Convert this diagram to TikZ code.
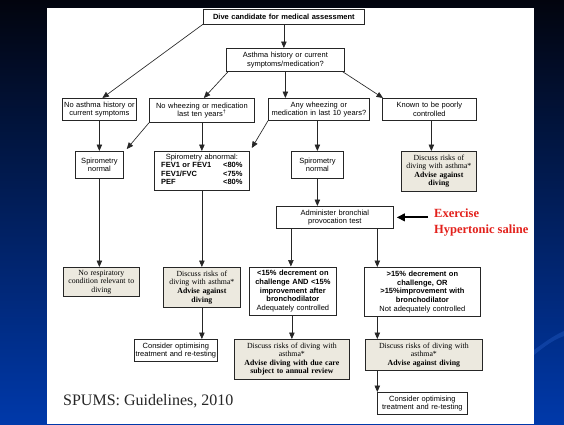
\documentclass[tikz,border=0pt]{standalone}
\usepackage{fontspec}
\setmainfont{Liberation Serif}
\setsansfont{Liberation Sans}
\usetikzlibrary{arrows.meta}
\definecolor{beige}{HTML}{ECE9DF}
\definecolor{redtxt}{HTML}{E3211C}
\definecolor{bgtop}{HTML}{02040E}
\definecolor{bgmid}{HTML}{0A2A7C}
\definecolor{bgbot}{HTML}{0039AA}
\definecolor{swoosh}{HTML}{2A62CC}
\tikzset{
  box/.style={draw=black!85, line width=0.75bp, fill=white, inner xsep=1bp, inner ysep=0pt,
    align=center, anchor=north west, text=black,
    font=\sffamily\fontsize{7.5bp}{8.6bp}\selectfont},
  tbox/.style={box, fill=beige, font=\rmfamily\fontsize{7.8bp}{8.6bp}\selectfont},
  arr/.style={draw=black!85, line width=0.65bp, -{Triangle[length=6.5bp,width=5.5bp]}},
  bigarr/.style={draw=black, line width=2.2bp, -{Triangle[length=8bp,width=7.5bp]}},
}
\begin{document}
\begin{tikzpicture}[x=1bp,y=-1bp]
\useasboundingbox (0,0) rectangle (564,424);
% slide background
\shade[top color=bgtop, middle color=bgmid, bottom color=bgbot] (0,0) rectangle (564,424);
\fill[swoosh, opacity=0.35] (534,350) .. controls (545,342) and (553,336) .. (564,331)
  -- (564,336) .. controls (553,340) and (545,346) .. (534,355) -- cycle;
\fill[white] (47,8) rectangle (534,424);

% boxes
\node[box, text width=159bp, minimum height=14.5bp, font=\sffamily\bfseries\fontsize{7.5bp}{8.6bp}\selectfont] (A) at (203,9) {Dive candidate for medical assessment};
\node[box, text width=116bp, minimum height=23bp] (B) at (226,48) {Asthma history or current\\symptoms/medication?};
\node[box, text width=72bp, minimum height=22bp] (C) at (62,98) {No asthma history or\\current symptoms};
\node[box, text width=103bp, minimum height=24bp] (D) at (149,98) {No wheezing or medication\\last ten years\textsuperscript{\textdagger}};
\node[box, text width=99bp, minimum height=22bp] (E) at (268,98) {Any wheezing or\\medication in last 10 years?};
\node[box, text width=92bp, minimum height=22bp] (F) at (382,98) {Known to be poorly\\controlled};

\node[box, text width=46bp, minimum height=27bp] (G) at (75,151) {Spirometry\\normal};
\node[box, text width=93bp, minimum height=39bp] (H) at (154,151) {Spirometry abnormal:\\[-0.5bp]
  \begin{tabular}{@{}l@{\hspace{12bp}}l@{}}
  \textbf{FEV1 or FEV1} & \textbf{<80\%}\\
  \textbf{FEV1/FVC} & \textbf{<75\%}\\
  \textbf{PEF} & \textbf{<80\%}
  \end{tabular}};
\node[box, text width=50bp, minimum height=27bp] (I) at (291,151) {Spirometry\\normal};
\node[tbox, text width=73bp, minimum height=39.5bp] (J) at (401,151) {Discuss risks of\\diving with asthma*\\\textbf{Advise against}\\\textbf{diving}};

\node[box, text width=115bp, minimum height=22bp] (K) at (276,206) {Administer bronchial\\provocation test};

\node[box, text width=85bp, minimum height=48.5bp] (L) at (249,266.5) {\textbf{<15\% decrement on}\\\textbf{challenge AND <15\%}\\\textbf{improvement after}\\\textbf{bronchodilator}\\Adequately controlled};
\node[box, text width=114bp, minimum height=49bp] (M) at (364,267) {\textbf{>15\% decrement on}\\\textbf{challenge, OR}\\\textbf{>15\%improvement with}\\\textbf{bronchodilator}\\Not adequately controlled};

\node[tbox, text width=74.6bp, minimum height=29bp] (N) at (62.7,267) {No respiratory\\condition relevant to\\diving};
\node[tbox, text width=75bp, minimum height=40bp] (O) at (163,267) {Discuss risks of\\diving with asthma*\\\textbf{Advise against}\\\textbf{diving}};

\node[box, text width=81bp, minimum height=22bp] (P) at (134,339) {Consider optimising\\treatment and re-testing};
\node[tbox, text width=113bp, minimum height=39.5bp] (Q) at (234,339) {Discuss risks of diving with\\asthma*\\\textbf{Advise diving with due care}\\\textbf{subject to annual review}};
\node[tbox, text width=115bp, minimum height=31bp] (R) at (365,339) {Discuss risks of diving with\\asthma*\\\textbf{Advise against diving}};
\node[box, text width=87.4bp, minimum height=22bp] (S) at (377.3,392) {Consider optimising\\treatment and re-testing};

% red annotation
\node[anchor=west, align=left, inner sep=0pt, text=redtxt,
  font=\rmfamily\bfseries\fontsize{12.5bp}{16bp}\selectfont] (ex) at (434,223) {Exercise\\Hypertonic saline};
% caption
\node[anchor=west, inner sep=0pt, text=black!85,
  font=\rmfamily\fontsize{16bp}{18bp}\selectfont] (cap) at (63,401) {SPUMS: Guidelines, 2010};

% connectors
\draw[arr] (A.south) -- (A.south |- B.north);
\draw[arr] (A.south west) -- ([xshift=3bp]C.north);
\draw[arr] ([xshift=2bp]B.south west) -- ([xshift=2bp]D.north);
\draw[arr] (B.south) -- (B.south |- E.north);
\draw[arr] ([xshift=-2bp]B.south east) -- ([xshift=1bp]F.north west);

\draw[arr] (C.south) -- (C.south |- G.north);
\draw[arr] (D.south west) -- ([xshift=3bp,yshift=2bp]G.north east);
\draw[arr] (D.south) -- (D.south |- H.north);
\draw[arr] (E.south west) -- ([xshift=2bp,yshift=3bp]H.north east);
\draw[arr] (I.north |- E.south) -- (I.north);
\draw[arr] ([xshift=2bp]F.south) -- ([xshift=2bp]F.south |- J.north);

\draw[arr] (I.south) -- (I.south |- K.north);
\draw[bigarr] ([xshift=-6bp]ex.west |- K.east) -- ([xshift=3bp]K.east);
\draw[arr] ([xshift=-2bp]L.north |- K.south) -- ([xshift=-2bp]L.north);
\draw[arr] ([xshift=13.3bp]M.north west |- K.south) -- ([xshift=13.3bp]M.north west);

\draw[arr] (G.south) -- (G.south |- N.north);
\draw[arr] (H.south) -- (H.south |- O.north);
\draw[arr] (O.south) -- (O.south |- P.north);
\draw[arr] ([xshift=-1bp]L.south) -- ([xshift=-1bp]L.south |- Q.north);
\draw[arr] ([xshift=13.3bp]M.south west) -- ([xshift=13.3bp]M.south west |- R.north);
\draw[arr] (S.north west |- R.south) -- (S.north west);
\end{tikzpicture}
\end{document}
